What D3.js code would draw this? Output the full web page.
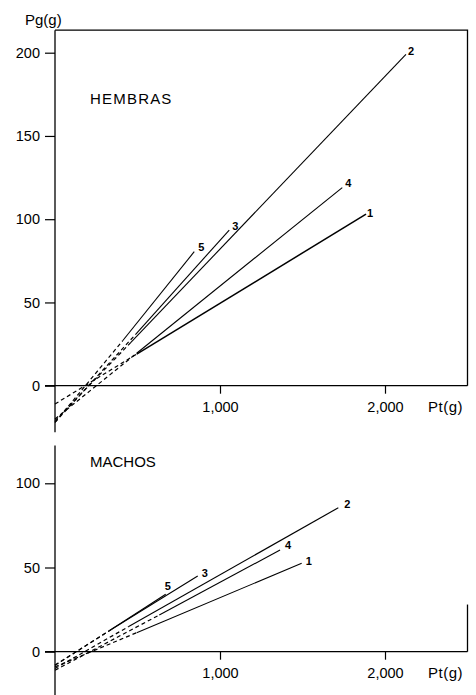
<!DOCTYPE html>
<html>
<head>
<meta charset="utf-8">
<script src="https://cdn.jsdelivr.net/npm/d3@7"></script>
<style>
  html, body { margin: 0; padding: 0; background: #fff; }
  svg { display: block; }
  text { font-family: "Liberation Sans", Arial, sans-serif; fill: #000; }
</style>
</head>
<body>
<svg id="chart" width="476" height="695"></svg>
<script>
// ---------------- DATA ----------------
const seriesIds = ["1", "2", "3", "4", "5"];

// HEMBRAS (females): intercept at Pt=0, start of solid segment, end of solid segment
const hembrasIntercept = [-11, -21, -22, -20, -22];
const hembrasStartX    = [495, 460, 490, 495, 410];
const hembrasStartY    = [19, 26, 31, 19.5, 27];
const hembrasEndX      = [1885, 2127, 1056, 1741, 844];
const hembrasEndY      = [103, 199, 93.5, 119, 80.5];

// MACHOS (males)
const machosIntercept = [-9, -10, -8, -11, -8];
const machosStartX    = [495, 444, 343, 632, 343];
const machosStartY    = [11.3, 14.8, 13.3, 21.8, 13.3];
const machosEndX      = [1495, 1717, 865, 1364, 671];
const machosEndY      = [52.5, 85.5, 45, 60.4, 34.1];

const xTickValues = [1000, 2000];
const xTickLabels = ["1,000", "2,000"];
const hembrasYTicks = [0, 50, 100, 150, 200];
const machosYTicks = [0, 50, 100];

// ---------------- LAYOUT ----------------
const svg = d3.select("#chart");
const x = d3.scaleLinear().domain([0, 2000]).range([55, 385]);
const xMax = 2500;

function buildSeries(ic, sx, sy, ex, ey) {
  return seriesIds.map((id, i) => ({
    id, dashed: [[0, ic[i]], [sx[i], sy[i]]], solid: [[sx[i], sy[i]], [ex[i], ey[i]]]
  }));
}

const labelOffsets = {
  top:    {"1": [1, 3], "2": [2, 1], "3": [3, 0], "4": [3, -1], "5": [4, -1]},
  bottom: {"1": [4, 2], "2": [6, 0], "3": [4, 1], "4": [5, -1], "5": [-1, -4]}
};

function drawPanel(cfg) {
  const g = svg.append("g");
  const y = d3.scaleLinear().domain([0, cfg.yRef]).range([cfg.y0, cfg.yRefPx]);

  const ya = d3.axisLeft(y).tickValues(cfg.yTicks).tickSize(10).tickPadding(5).tickFormat(d3.format("d"));
  const yg = g.append("g").attr("transform", `translate(${x(0)},0)`).call(ya);
  yg.select(".domain").remove();
  yg.selectAll("line").attr("stroke", "#000").attr("stroke-width", 1.2);
  yg.selectAll("text").style("font-size", "14.5px").style("font-family", "Liberation Sans, Arial, sans-serif");

  g.append("line").attr("x1", x(0)).attr("x2", x(0))
    .attr("y1", y(cfg.yTop)).attr("y2", y(cfg.yBottom))
    .attr("stroke", "#000").attr("stroke-width", 1.3);

  const xa = d3.axisBottom(x).tickValues(xTickValues).tickSize(8).tickPadding(8)
    .tickFormat((d, i) => xTickLabels[i]);
  const xg = g.append("g").attr("transform", `translate(0,${y(0)})`).call(xa);
  xg.select(".domain").remove();
  xg.selectAll("line").attr("stroke", "#000").attr("stroke-width", 1.2);
  xg.selectAll("text").style("font-size", "14.5px").style("font-family", "Liberation Sans, Arial, sans-serif");

  g.append("line").attr("x1", x(0) - 10).attr("x2", x(xMax))
    .attr("y1", y(0)).attr("y2", y(0))
    .attr("stroke", "#000").attr("stroke-width", 1.3);

  if (cfg.frameTop) {
    g.append("path")
      .attr("d", `M${x(0)},${y(cfg.yTop)}H${x(xMax)}V${y(0)}`)
      .attr("fill", "none").attr("stroke", "#000").attr("stroke-width", 1.3);
  } else {
    g.append("line").attr("x1", x(xMax)).attr("x2", x(xMax))
      .attr("y1", y(cfg.rightFrom)).attr("y2", y(0))
      .attr("stroke", "#000").attr("stroke-width", 1.3);
  }

  g.append("text").attr("x", 463).attr("y", y(0) + 26).attr("text-anchor", "end")
    .style("font-size", "15px").style("letter-spacing", "0.5px").text("Pt(g)");

  g.append("text").attr("x", 90).attr("y", cfg.titleY)
    .style("font-size", "15px").style("letter-spacing", cfg.titleSpacing)
    .text(cfg.title);

  const line = d3.line().x(d => x(d[0])).y(d => y(d[1]));
  const series = cfg.series;

  g.selectAll(".dash").data(series).join("path")
    .attr("d", d => line(d.dashed))
    .attr("fill", "none").attr("stroke", "#000").attr("stroke-width", 1.2)
    .attr("stroke-dasharray", "4,3");

  g.selectAll(".solid").data(series).join("path")
    .attr("d", d => line(d.solid))
    .attr("fill", "none").attr("stroke", "#000")
    .attr("stroke-width", d => d.id === "1" && cfg.frameTop ? 1.5 : 1.1);

  g.selectAll(".lab").data(series).join("text")
    .attr("x", d => x(d.solid[1][0]) + cfg.offsets[d.id][0])
    .attr("y", d => y(d.solid[1][1]) + cfg.offsets[d.id][1])
    .style("font-size", "11px").style("font-weight", "bold")
    .text(d => d.id);
}

svg.append("text").attr("x", 25).attr("y", 25).style("font-size", "15px").text("Pg(g)");

drawPanel({
  yRef: 200, y0: 385.7, yRefPx: 52.7, yTicks: hembrasYTicks,
  yTop: 213.5, yBottom: -28, frameTop: true,
  title: "HEMBRAS", titleY: 104, titleSpacing: "1.2px",
  offsets: labelOffsets.top,
  series: buildSeries(hembrasIntercept, hembrasStartX, hembrasStartY, hembrasEndX, hembrasEndY)
});

drawPanel({
  yRef: 100, y0: 651.7, yRefPx: 483.3, yTicks: machosYTicks,
  yTop: 122.5, yBottom: -27, frameTop: false, rightFrom: 28,
  title: "MACHOS", titleY: 467, titleSpacing: "0px",
  offsets: labelOffsets.bottom,
  series: buildSeries(machosIntercept, machosStartX, machosStartY, machosEndX, machosEndY)
});
</script>
</body>
</html>
